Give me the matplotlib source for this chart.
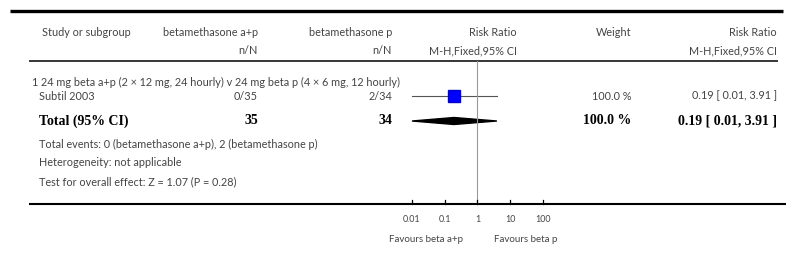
import numpy as np
import matplotlib.pyplot as plt
from matplotlib.patches import Polygon

# ---- data ----
headers1 = ["Study or subgroup", "betamethasone a+p", "betamethasone p", "Risk Ratio", "Weight", "Risk Ratio"]
headers2 = ["", "n/N", "n/N", "M-H,Fixed,95% CI", "", "M-H,Fixed,95% CI"]
subgroup = "1 24 mg beta a+p (2 \u00d7 12 mg, 24 hourly) v 24 mg beta p (4 \u00d7 6 mg, 12 hourly)"
studies = ["Subtil 2003"]
events_ap = ["0/35"]
events_p = ["2/34"]
rr = [0.19]
ci_lo = [0.01]
ci_hi = [3.91]
weights = ["100.0 %"]
rr_text = ["0.19 [ 0.01, 3.91 ]"]
total_ap, total_p = "35", "34"
total_rr, total_lo, total_hi = 0.19, 0.01, 3.91
total_weight = "100.0 %"
total_text = "0.19 [ 0.01, 3.91 ]"
footer = ["Total events: 0 (betamethasone a+p), 2 (betamethasone p)",
          "Heterogeneity: not applicable",
          "Test for overall effect: Z = 1.07 (P = 0.28)"]
ticks = [0.01, 0.1, 1, 10, 100]
tick_labels = ["0.01", "0.1", "1", "10", "100"]
favours = ["Favours beta a+p", "Favours beta p"]

W, H = 791, 276
fig = plt.figure(figsize=(W / 100, H / 100), dpi=100)
ax = fig.add_axes([0, 0, 1, 1])
ax.set_xlim(0, W)
ax.set_ylim(H, 0)
ax.axis("off")

# forest plot axes (log scale), 0.01 at x=412, 100 at x=543
px0, px1 = 412, 543
axf = fig.add_axes([px0 / W, 0, (px1 - px0) / W, 1])
axf.set_xscale("log")
axf.set_xlim(0.01, 100)
axf.set_ylim(H, 0)
axf.axis("off")
axf.patch.set_alpha(0)

sans = ["Lato", "DejaVu Sans"]
serif = ["Liberation Serif", "DejaVu Serif"]
col = "#444444"
fs = 7.8
fsb = 10
fss = 6.4

# lines
ax.plot([10, 783], [11, 11], color="black", lw=2.4, solid_capstyle="butt")
ax.plot([29, 778], [61, 61], color="black", lw=1.1, solid_capstyle="butt")
ax.plot([29, 786], [204, 204], color="black", lw=1.5, solid_capstyle="butt")

# headers
xr = [None, 258, 392, 517, 631, 777]
ax.text(42, 32, headers1[0], ha="left", va="center", fontsize=fs, color=col, family=sans)
for i in range(1, 6):
    ax.text(xr[i], 32, headers1[i], ha="right", va="center", fontsize=fs, color=col, family=sans)
    if headers2[i]:
        ax.text(xr[i], 51, headers2[i], ha="right", va="center", fontsize=fs, color=col, family=sans)

# subgroup and study rows
ax.text(32, 82, subgroup, ha="left", va="center", fontsize=fs, color=col, family=sans)
for k, s in enumerate(studies):
    y = 96 + 14 * k
    ax.text(39, y, s, ha="left", va="center", fontsize=fs, color=col, family=sans)
    ax.text(xr[1], y, events_ap[k], ha="right", va="center", fontsize=fs, color=col, family=sans)
    ax.text(xr[2], y, events_p[k], ha="right", va="center", fontsize=fs, color=col, family=sans)
    ax.text(xr[4], y, weights[k], ha="right", va="center", fontsize=fs, color=col, family=sans)
    ax.text(xr[5], y, rr_text[k], ha="right", va="center", fontsize=fs, color=col, family=sans)
    axf.plot([ci_lo[k], ci_hi[k]], [y, y], color="#555555", lw=0.8, clip_on=False)
    axf.plot([rr[k]], [y], marker="s", ms=9, color="#0000ff", mec="#0000cc", clip_on=False)

# total row
yt = 121
ax.text(39, yt, "Total (95% CI)", ha="left", va="center", fontsize=fsb, fontweight="bold", family=serif)
ax.text(xr[1], yt, total_ap, ha="right", va="center", fontsize=fsb, fontweight="bold", family=serif)
ax.text(xr[2], yt, total_p, ha="right", va="center", fontsize=fsb, fontweight="bold", family=serif)
ax.text(xr[4], yt, total_weight, ha="right", va="center", fontsize=fsb, fontweight="bold", family=serif)
ax.text(xr[5], yt, total_text, ha="right", va="center", fontsize=fsb, fontweight="bold", family=serif)
diamond = Polygon([[total_lo, yt], [total_rr, yt - 3.5], [total_hi, yt], [total_rr, yt + 3.5]],
                  closed=True, color="black", transform=axf.transData, clip_on=False)
axf.add_patch(diamond)

# footer texts
for k, t in enumerate(footer):
    ax.text(39, 144 + 19 * k, t, ha="left", va="center", fontsize=fs, color=col, family=sans)

# null line and axis ticks
axf.plot([1, 1], [61, 204], color="#999999", lw=0.8, clip_on=False)
for t, lab in zip(ticks, tick_labels):
    axf.plot([t, t], [200, 204], color="black", lw=0.9, clip_on=False)
    axf.text(t, 220, lab, ha="center", va="center", fontsize=fss, color=col, family=sans, clip_on=False)
axf.text(0.37, 240, favours[0], ha="right", va="center", fontsize=7, color=col, family=sans, clip_on=False)
axf.text(3.3, 240, favours[1], ha="left", va="center", fontsize=7, color=col, family=sans, clip_on=False)

fig.savefig("out.png", dpi=100)
